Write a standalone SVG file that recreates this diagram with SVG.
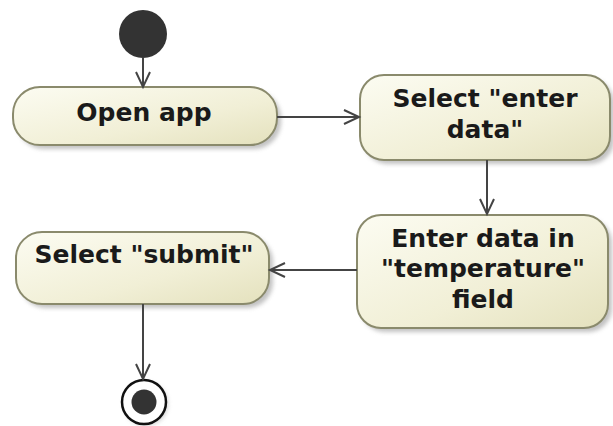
<svg xmlns="http://www.w3.org/2000/svg" width="613" height="426" viewBox="0 0 613 426">
<defs>
<linearGradient id="g" x1="0" y1="0" x2="1" y2="1">
<stop offset="0" stop-color="#fcfcf2"/>
<stop offset="0.6" stop-color="#f1efd6"/>
<stop offset="1" stop-color="#e4e1bd"/>
</linearGradient>
<filter id="sh" x="-10%" y="-10%" width="130%" height="140%">
<feGaussianBlur stdDeviation="2"/>
</filter>
<marker id="a" markerWidth="20" markerHeight="20" refX="16" refY="8" orient="auto" markerUnits="userSpaceOnUse">
<path d="M1,1 L16,8 L1,15" fill="none" stroke="#444" stroke-width="2"/>
</marker>
</defs>
<style>
.box{fill:url(#g);stroke:#8a8a6c;stroke-width:2}
.shadow{fill:#9a9a9a;opacity:0.6;filter:url(#sh)}
.t{font-family:"DejaVu Sans",sans-serif;font-weight:bold;font-size:25px;fill:#1a1a1a;text-anchor:middle}
.c{stroke:#444;stroke-width:2;fill:none;marker-end:url(#a)}
</style>
<rect width="613" height="426" fill="#ffffff"/>
<g id="start">
<circle cx="143" cy="34" r="24" fill="#333"/>
</g>
<g id="open-app">
<rect class="shadow" x="17" y="91" width="264" height="58" rx="27"/>
<rect class="box" x="13" y="87" width="264" height="58" rx="27"/>
<text class="t" x="144" y="121">Open app</text>
</g>
<g id="select-enter-data">
<rect class="shadow" x="364" y="79" width="250" height="85" rx="24"/>
<rect class="box" x="360" y="75" width="250" height="85" rx="24"/>
<text class="t" x="485" y="107">Select "enter</text>
<text class="t" x="485" y="138">data"</text>
</g>
<g id="enter-data">
<rect class="shadow" x="361" y="219" width="251" height="113" rx="24"/>
<rect class="box" x="357" y="215" width="251" height="113" rx="24"/>
<text class="t" x="483" y="247">Enter data in</text>
<text class="t" x="483" y="277">"temperature"</text>
<text class="t" x="483" y="308">field</text>
</g>
<g id="select-submit">
<rect class="shadow" x="20" y="236" width="253" height="72" rx="26"/>
<rect class="box" x="16" y="232" width="253" height="72" rx="26"/>
<text class="t" x="144" y="263">Select "submit"</text>
</g>
<g id="final">
<circle cx="146" cy="404" r="22" fill="#aaa" opacity="0.5" filter="url(#sh)"/>
<circle cx="144" cy="402" r="22" fill="#fff" stroke="#111" stroke-width="2.5"/>
<circle cx="144" cy="402" r="12.5" fill="#333"/>
</g>
<g id="connectors">
<path class="c" d="M143,58 L143,87"/>
<path class="c" d="M277,117 L359,117"/>
<path class="c" d="M487,160 L487,214"/>
<path class="c" d="M357,270 L270,270"/>
<path class="c" d="M143,304 L143,379"/>
</g>
</svg>
